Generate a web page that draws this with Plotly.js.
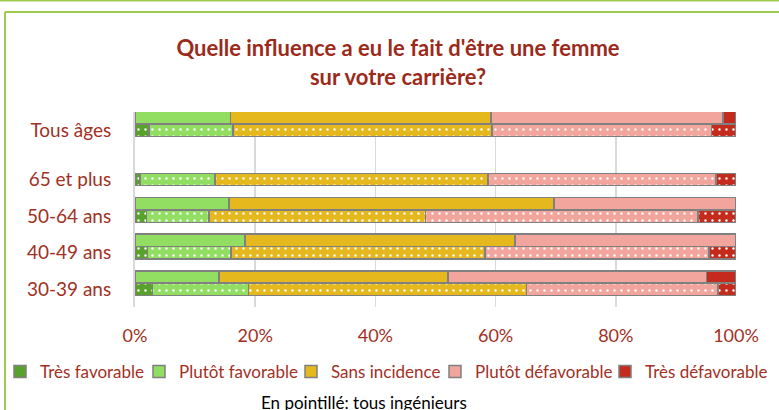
<!DOCTYPE html>
<html>
<head>
<meta charset="utf-8">
<script src="https://cdn.plot.ly/plotly-3.0.1.min.js"></script>
<style>
  html, body { margin: 0; padding: 0; background: #ffffff; }
  #chart { width: 779px; height: 410px; }
</style>
</head>
<body>
<div id="chart"></div>
<script>
// ---- data (percent) ----
const categories = ['30-39 ans', '40-49 ans', '50-64 ans', '65 et plus', 'Tous âges'];
const seriesNames = ['Très favorable', 'Plutôt favorable', 'Sans incidence', 'Plutôt défavorable', 'Très défavorable'];

// solid bars: femmes ingénieurs
const femTresFav   = [0,    0,    0,    null, 0];
const femPlutotFav = [14.0, 18.3, 15.6, null, 15.9];
const femSans      = [38.1, 44.9, 54.1, null, 43.3];
const femPlutotDef = [43.0, 36.8, 30.3, null, 38.6];
const femTresDef   = [4.9,  0,    0,    null, 2.2];

// dotted bars: tous ingénieurs
const tousTresFav   = [2.9,  2.1,  1.9,  0.8,  2.3];
const tousPlutotFav = [16.0, 13.9, 10.4, 12.5, 14.0];
const tousSans      = [46.2, 42.2, 36.0, 45.4, 43.1];
const tousPlutotDef = [31.9, 37.3, 45.4, 38.0, 36.5];
const tousTresDef   = [3.0,  4.5,  6.3,  3.3,  4.1];

const xTickVals = [0, 20, 40, 60, 80, 100];
const xTickText = ['0%', '20%', '40%', '60%', '80%', '100%'];

// ---- styling / layout ----
const colors = ['#58A12B', '#92DE62', '#E5B81E', '#F2A59C', '#C42B1D'];
const textRed = '#A2301F';
const font = 'Lato, "Open Sans", sans-serif';
const rowPos = [0, 1, 2, 3, 4.34];       // vertical slot of each category
const solidShift = 0.341, barW = 0.34;
const legendTextStart = [41, 180, 332, 476, 646];   // px where each legend label begins

const W = 779, H = 410, L = 135, R = 43, T = 112, B = 103;
const pw = W - L - R, ph = H - T - B;
const px = v => (v - L) / pw;
const py = v => (H - B - v) / ph;

const femSeries = [femTresFav, femPlutotFav, femSans, femPlutotDef, femTresDef];
const tousSeries = [tousTresFav, tousPlutotFav, tousSans, tousPlutotDef, tousTresDef];

const legendIds = ['legend', 'legend2', 'legend3', 'legend4', 'legend5'];

const traces = [];
seriesNames.forEach((name, i) => {
  traces.push({
    type: 'bar', orientation: 'h', name: name,
    x: femSeries[i],
    y: rowPos.map(p => p + solidShift),
    width: barW,
    marker: { color: colors[i], line: { color: '#808080', width: 1.5 } },
    legend: legendIds[i], showlegend: true, hoverinfo: 'x+name'
  });
});
seriesNames.forEach((name, i) => {
  traces.push({
    type: 'bar', orientation: 'h', name: name,
    x: tousSeries[i],
    y: rowPos,
    width: barW,
    marker: {
      color: colors[i],
      line: { color: '#808080', width: 1.5 },
      pattern: { shape: '.', fillmode: 'overlay', fgcolor: '#ffffff', fgopacity: 1, size: 7, solidity: 0.09 }
    },
    showlegend: false, hoverinfo: 'x+name'
  });
});

const green = '#9DCB4E';
const layout = {
  width: W, height: H,
  margin: { l: L, r: R, t: T, b: B, pad: 0 },
  paper_bgcolor: '#ffffff', plot_bgcolor: '#ffffff',
  barmode: 'stack', bargap: 0,
  font: { family: font, color: textRed, size: 18 },
  title: {
    text: "Quelle influence a eu le fait d'être une femme<br>sur votre carrière?",
    font: { family: font, size: 22, color: '#9C2A1B', weight: 'bold' },
    xref: 'container', x: 398 / W, xanchor: 'center',
    yref: 'container', y: 1 - 56 / H, yanchor: 'middle'
  },
  xaxis: {
    range: [0, 100], tickvals: xTickVals, ticktext: xTickText,
    showgrid: true, gridcolor: '#D9D9D9', gridwidth: 1.5,
    zeroline: false, showline: false, ticks: '',
    ticklabelstandoff: 16,
    tickfont: { family: font, size: 18, color: textRed },
    fixedrange: true
  },
  yaxis: {
    range: [-0.477, -0.477 + ph / 36.67],
    tickvals: rowPos, ticktext: categories,
    showgrid: false, zeroline: false,
    showline: true, linecolor: '#D9D9D9', linewidth: 2,
    ticks: '', ticklabelstandoff: 18,
    tickfont: { family: font, size: 19, color: textRed },
    fixedrange: true
  },
  annotations: [{
    text: 'En pointillé: tous ingénieurs',
    xref: 'paper', yref: 'paper', x: px(364), y: py(402),
    xanchor: 'center', yanchor: 'middle', showarrow: false,
    font: { family: font, size: 17, color: '#000000' }
  }],
  shapes: [
    { type: 'line', xref: 'paper', yref: 'paper', x0: px(0), x1: px(W), y0: py(0.5), y1: py(0.5), line: { color: green, width: 2 } },
    { type: 'line', xref: 'paper', yref: 'paper', x0: px(5), x1: px(W + 5), y0: py(12), y1: py(12), line: { color: green, width: 2 } },
    { type: 'line', xref: 'paper', yref: 'paper', x0: px(5), x1: px(5), y0: py(12), y1: py(H + 5), line: { color: green, width: 2 } }
  ]
};

legendIds.forEach((id, i) => {
  layout[id] = {
    orientation: 'h',
    xref: 'container', x: (legendTextStart[i] - 41) / W, xanchor: 'left',
    yref: 'container', y: 1 - 372 / H, yanchor: 'middle',
    font: { family: font, size: 17, color: textRed },
    itemwidth: 30, bgcolor: 'rgba(0,0,0,0)', borderwidth: 0
  };
});

Plotly.newPlot('chart', traces, layout, { displayModeBar: false, staticPlot: true });
</script>
</body>
</html>
